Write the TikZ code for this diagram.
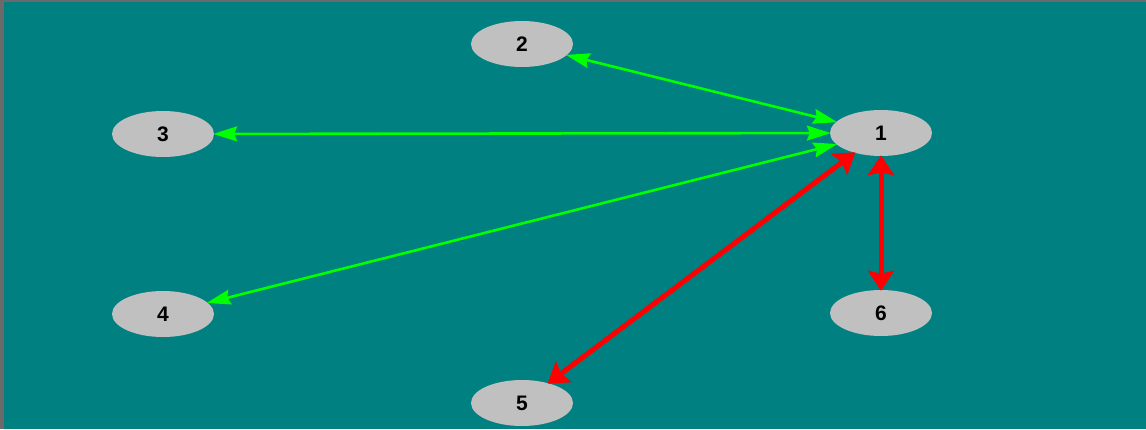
\documentclass[tikz,border=0pt]{standalone}
\usepackage{fontspec}
\setmainfont{Liberation Sans}
\usetikzlibrary{shapes.geometric,arrows.meta}
\definecolor{bgteal}{HTML}{008080}
\definecolor{nodegray}{HTML}{C0C0C0}
\definecolor{framegray}{HTML}{6A6A6A}
\definecolor{edgegreen}{HTML}{00FF00}
\definecolor{edgered}{HTML}{FF0000}
\tikzset{
  vertex/.style={ellipse, fill=nodegray, draw=none, minimum width=102pt, minimum height=46pt, inner sep=0pt, font=\fontsize{21}{21}\selectfont\bfseries, text=black},
  greenedge/.style={draw=edgegreen, line width=2.6pt, {Stealth[length=24pt,width=15pt,inset=3pt]}-{Stealth[length=24pt,width=15pt,inset=3pt]}, shorten <=-1pt, shorten >=-1pt},
  rededge/.style={draw=edgered, line width=5pt, {Stealth[length=20pt,width=26pt,inset=3pt]}-{Stealth[length=20pt,width=26pt,inset=3pt]}, shorten <=-1pt, shorten >=-1pt}
}
\begin{document}
\begin{tikzpicture}[x=1pt,y=-1pt]
\useasboundingbox (0,0) rectangle (1146,429);
\fill[bgteal] (0,0) rectangle (1146,429);
\fill[framegray] (0,0) rectangle (4,429);
\fill[framegray] (0,0) rectangle (1146,1.5);
\node[vertex] (n1) at (881,133) {1};
\node[vertex] (n2) at (522,44) {2};
\node[vertex] (n3) at (163,134) {3};
\node[vertex] (n4) at (163,314) {4};
\node[vertex] (n5) at (522,403) {5};
\node[vertex] (n6) at (881,313) {6};
\draw[greenedge] (n2) -- (n1);
\draw[greenedge] (n3) -- (n1);
\draw[greenedge] (n4) -- (n1);
\draw[rededge] (n5) -- (n1);
\draw[rededge] (n6) -- (n1);
\end{tikzpicture}
\end{document}
